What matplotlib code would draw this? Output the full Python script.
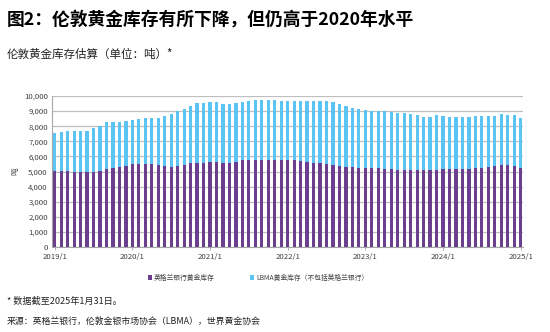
import matplotlib
matplotlib.use("Agg")
import matplotlib.pyplot as plt
import numpy as np
from matplotlib.ticker import FuncFormatter

plt.rcParams['font.family'] = ['Noto Sans CJK SC', 'DejaVu Sans']

# Monthly data 2019/1 .. 2025/1 (tonnes)
boe = [5040, 5040, 5040, 5000, 4960, 4960, 5000, 5040, 5150, 5260, 5290, 5370,
       5480, 5480, 5480, 5480, 5440, 5370, 5330, 5370, 5440, 5530, 5570, 5590,
       5640, 5620, 5570, 5590, 5640, 5730, 5730, 5750, 5750, 5750, 5770, 5770,
       5750, 5730, 5700, 5660, 5590, 5550, 5510, 5460, 5370, 5330, 5290, 5260,
       5240, 5220, 5200, 5180, 5180, 5130, 5130, 5130, 5110, 5110, 5110, 5130,
       5180, 5180, 5150, 5180, 5180, 5200, 5260, 5310, 5370, 5420, 5420, 5370,
       5260]
total = [7550, 7640, 7710, 7690, 7670, 7670, 7860, 8040, 8260, 8280, 8280, 8370,
         8390, 8480, 8570, 8520, 8520, 8680, 8810, 9010, 9140, 9360, 9510, 9560,
         9630, 9580, 9490, 9450, 9560, 9630, 9690, 9760, 9740, 9710, 9710, 9690,
         9670, 9670, 9690, 9690, 9670, 9670, 9650, 9580, 9470, 9340, 9230, 9140,
         9050, 9030, 9030, 9030, 8920, 8880, 8880, 8810, 8740, 8610, 8610, 8720,
         8680, 8610, 8610, 8590, 8590, 8660, 8680, 8680, 8700, 8790, 8740, 8740,
         8570]
lbma = [t - b for t, b in zip(total, boe)]

tick_labels = ['2019/1', '2020/1', '2021/1', '2022/1', '2023/1', '2024/1', '2025/1']
series_names = ['英格兰银行黄金库存', 'LBMA黄金库存（不包括英格兰银行）']

purple = '#6B3F8E'
blue = '#5CC4F2'

fig = plt.figure(figsize=(5.5, 3.32), dpi=100)
ax = fig.add_axes([52/550, 1-247/332, (523-52)/550, (247-96)/332])

x = np.arange(len(boe))
ax.bar(x, boe, width=0.5, color=purple, label=series_names[0], zorder=3)
ax.bar(x, lbma, width=0.5, bottom=boe, color=blue, label=series_names[1], zorder=3)

ax.set_xlim(-0.42, len(boe) - 1 + 0.36)
ax.set_ylim(0, 10000)
ax.set_yticks(np.arange(0, 10001, 1000))
ax.yaxis.set_major_formatter(FuncFormatter(lambda v, p: f'{int(v):,}'))
ax.set_xticks(np.arange(0, len(boe), 12))
ax.set_xticklabels(tick_labels)
ax.grid(axis='y', color='#BFBFBF', linewidth=0.9, zorder=0)
for s in ['top', 'right']:
    ax.spines[s].set_visible(False)
for s in ['left', 'bottom']:
    ax.spines[s].set_color('#A6A6A6')
    ax.spines[s].set_linewidth(0.8)
ax.tick_params(axis='y', length=0, labelsize=5.6, pad=3, colors='#404040')
ax.tick_params(axis='x', length=2.5, width=0.6, color='#A6A6A6', labelsize=5.6, pad=2, labelcolor='#404040')
ax.set_ylabel('吨', fontsize=5.5, color='#404040', labelpad=3)

leg = fig.legend(loc='center', bbox_to_anchor=(258/550, 1-278/332), ncol=2, frameon=False,
                 fontsize=4.9, handlelength=0.6, handleheight=0.6, handletextpad=0.3,
                 columnspacing=5.2, labelcolor='#404040')

fig.text(7/550, 1-19/332, '图2：伦敦黄金库存有所下降，但仍高于2020年水平', fontsize=12.8,
         fontweight='bold', va='center', ha='left', color='black')
fig.text(7/550, 1-54/332, '伦敦黄金库存估算（单位：吨）*', fontsize=8.3,
         va='center', ha='left', color='#222222')
fig.text(7/550, 1-301/332, '* 数据截至2025年1月31日。', fontsize=6.6,
         va='center', ha='left', color='#222222')
fig.text(7/550, 1-321/332, '来源：英格兰银行，伦敦金银市场协会（LBMA），世界黄金协会', fontsize=6.4,
         va='center', ha='left', color='#222222')

fig.savefig('out.png', dpi=100)
